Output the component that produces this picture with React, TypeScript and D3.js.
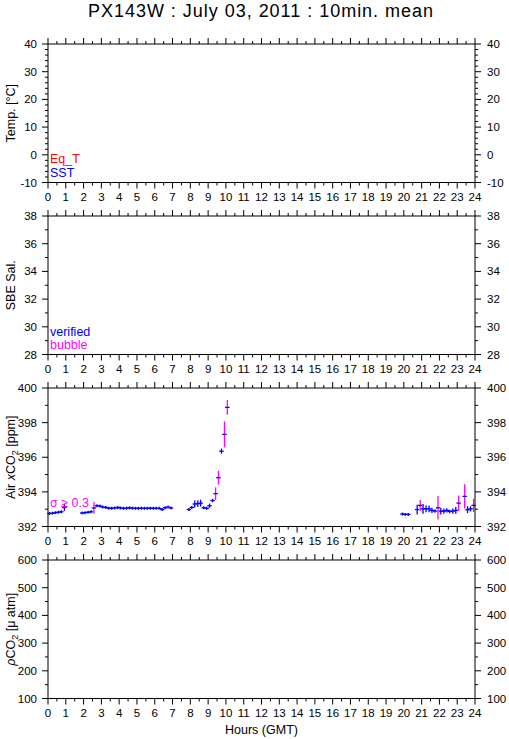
import React from 'react';
import * as d3 from 'd3';

const titleText = 'PX143W : July 03, 2011 : 10min. mean';
const hourTicks = d3.range(0, 25);
const hourMinor = d3.range(0.5, 24, 1);

const tempTicks = [-10, 0, 10, 20, 30, 40];
const salTicks = [28, 30, 32, 34, 36, 38];
const airTicks = [392, 394, 396, 398, 400];
const pco2Ticks = [100, 200, 300, 400, 500, 600];

// Air xCO2 10-min means (hour GMT, ppm, std dev)
const airHours = [
  0.08, 0.25, 0.42, 0.58, 0.75, 0.92,
  1.92, 2.08, 2.25, 2.42, 2.58, 2.75, 2.92, 3.08, 3.25, 3.42, 3.58, 3.75, 3.92,
  4.08, 4.25, 4.42, 4.58, 4.75, 4.92, 5.08, 5.25, 5.42, 5.58, 5.75, 5.92, 6.08, 6.25,
  6.42, 6.58, 6.75, 6.92,
  7.92, 8.08, 8.25, 8.42, 8.58, 8.75, 8.92, 9.08, 9.25, 9.42, 9.58, 9.75, 9.92, 10.08,
  19.92, 20.08, 20.25,
  20.75, 20.92, 21.08, 21.25, 21.42, 21.58, 21.75, 21.92, 22.08, 22.25, 22.42, 22.58,
  22.75, 22.92, 23.08, 23.42, 23.58, 23.75, 23.92,
];
const airValues = [
  392.75, 392.77, 392.8, 392.82, 392.85, 393.1,
  392.78, 392.8, 392.82, 392.85, 393.07, 393.2, 393.18, 393.12, 393.1, 393.06, 393.05, 393.07, 393.1,
  393.07, 393.05, 393.06, 393.08, 393.06, 393.05, 393.05, 393.06, 393.05, 393.05, 393.06, 393.05, 393.05, 393.05,
  392.98, 393.08, 393.12, 393.07,
  392.98, 393.1, 393.3, 393.32, 393.35, 393.08, 393.05, 393.2, 393.5, 393.9, 394.82, 396.35, 397.32, 398.88,
  392.72, 392.7, 392.7,
  392.98, 393.22, 393.02, 393.02, 393.02, 392.93, 392.89, 393.08, 392.89, 392.89, 392.93, 392.87,
  392.89, 392.93, 393.35, 393.74, 392.97, 393.02, 393.22,
];
const airSd = [
  0.05, 0.05, 0.05, 0.05, 0.06, 0.2,
  0.05, 0.05, 0.05, 0.05, 0.34, 0.08, 0.06, 0.06, 0.05, 0.05, 0.05, 0.08, 0.06,
  0.05, 0.05, 0.05, 0.06, 0.05, 0.05, 0.05, 0.05, 0.05, 0.05, 0.05, 0.05, 0.05, 0.05,
  0.06, 0.06, 0.06, 0.05,
  0.06, 0.06, 0.2, 0.2, 0.2, 0.06, 0.06, 0.12, 0.1, 0.36, 0.4, 0.15, 0.75, 0.42,
  0.03, 0.03, 0.03,
  0.28, 0.31, 0.28, 0.2, 0.2, 0.15, 0.1, 0.68, 0.2, 0.15, 0.12, 0.1,
  0.15, 0.2, 0.44, 0.7, 0.2, 0.15, 0.38,
];

const W = 509;
const H = 739;
const LEFT = 48;
const RIGHT = 475;
const PANEL_H = 138.5;
const PANEL_STEP = 172;
const FONT = '"Liberation Sans", Arial, Helvetica, sans-serif';
const BLUE = '#0000ff';
const MAGENTA = '#ff00ff';
const RED = '#ff0000';

const x = d3.scaleLinear().domain([0, 24]).range([LEFT, RIGHT]);

type PanelDef = {
  ticks: number[];
  minorStep: number;
  label: React.ReactNode;
};

const panels: PanelDef[] = [
  { ticks: tempTicks, minorStep: 2, label: 'Temp. [°C]' },
  { ticks: salTicks, minorStep: 1, label: 'SBE Sal.' },
  {
    ticks: airTicks,
    minorStep: 1,
    label: (
      <>
        Air <tspan fontStyle="italic">x</tspan>CO<tspan fontSize={9} dy={3}>2</tspan>
        <tspan dy={-3}> [ppm]</tspan>
      </>
    ),
  },
  {
    ticks: pco2Ticks,
    minorStep: 50,
    label: (
      <>
        <tspan fontStyle="italic">ρ</tspan>CO<tspan fontSize={9} dy={3}>2</tspan>
        <tspan dy={-3}> [μ atm]</tspan>
      </>
    ),
  },
];

function Panel({ def, index, children }: { def: PanelDef; index: number; children?: any }) {
  const top = 44 + index * PANEL_STEP;
  const bottom = top + PANEL_H;
  const lo = def.ticks[0];
  const hi = def.ticks[def.ticks.length - 1];
  const y = d3.scaleLinear().domain([lo, hi]).range([bottom, top]);
  const minor = d3.range(lo, hi + 1e-9, def.minorStep).filter((v) => !def.ticks.includes(v));
  return (
    <g>
      {children && children(y)}
      <rect x={LEFT} y={top} width={RIGHT - LEFT} height={PANEL_H} fill="none" stroke="#000" strokeWidth={1} />
      {hourTicks.map((h) => (
        <g key={'h' + h}>
          <line x1={x(h)} x2={x(h)} y1={top} y2={top - 6} stroke="#000" />
          <line x1={x(h)} x2={x(h)} y1={bottom} y2={bottom + 6} stroke="#000" />
          <text x={x(h)} y={bottom + 18} textAnchor="middle" fontSize={11.5} fontFamily={FONT}>
            {h}
          </text>
        </g>
      ))}
      {hourMinor.map((h) => (
        <g key={'m' + h}>
          <line x1={x(h)} x2={x(h)} y1={top} y2={top - 3} stroke="#000" />
          <line x1={x(h)} x2={x(h)} y1={bottom} y2={bottom + 3} stroke="#000" />
        </g>
      ))}
      {def.ticks.map((v) => (
        <g key={'y' + v}>
          <line x1={LEFT} x2={LEFT - 6} y1={y(v)} y2={y(v)} stroke="#000" />
          <line x1={RIGHT} x2={RIGHT + 6} y1={y(v)} y2={y(v)} stroke="#000" />
          <text x={LEFT - 11} y={y(v) + 4} textAnchor="end" fontSize={11.5} fontFamily={FONT}>
            {v}
          </text>
          <text x={RIGHT + 12} y={y(v) + 4} textAnchor="start" fontSize={11.5} fontFamily={FONT}>
            {v}
          </text>
        </g>
      ))}
      {minor.map((v) => (
        <g key={'ym' + v}>
          <line x1={LEFT} x2={LEFT - 3} y1={y(v)} y2={y(v)} stroke="#000" />
          <line x1={RIGHT} x2={RIGHT + 3} y1={y(v)} y2={y(v)} stroke="#000" />
        </g>
      ))}
      <text
        transform={`translate(15,${(top + bottom) / 2}) rotate(-90)`}
        textAnchor="middle"
        fontSize={12.5}
        fontFamily={FONT}
      >
        {def.label}
      </text>
    </g>
  );
}

export default function App() {
  const drawAir = (y: d3.ScaleLinear<number, number>) => (
    <g>
      {airHours.map((h, i) => {
        const cx = x(h);
        const cy = y(airValues[i]);
        const sd = airSd[i];
        const half = Math.max(1.5, Math.abs(y(airValues[i] + sd) - cy));
        const barColor = sd >= 0.3 ? MAGENTA : BLUE;
        return (
          <g key={i}>
            <line x1={cx} x2={cx} y1={cy - half} y2={cy + half} stroke={barColor} strokeWidth={1.3} />
            <line x1={cx - 2.2} x2={cx + 2.2} y1={cy} y2={cy} stroke={BLUE} strokeWidth={1.3} />
          </g>
        );
      })}
    </g>
  );

  return (
    <svg
      width={W}
      height={H}
      viewBox={`0 0 ${W} ${H}`}
      style={{ position: 'absolute', left: 0, top: 0, background: '#fff' }}
    >
      <rect x={0} y={0} width={W} height={H} fill="#fff" />
      <text x={260.5} y={17} textAnchor="middle" fontSize={18} fontFamily={FONT} textLength={345} lengthAdjust="spacing">
        {titleText}
      </text>
      <Panel def={panels[0]} index={0} />
      <Panel def={panels[1]} index={1} />
      <Panel def={panels[2]} index={2}>
        {drawAir}
      </Panel>
      <Panel def={panels[3]} index={3} />

      <text x={50} y={163} fontSize={12.5} fontFamily={FONT} fill={RED}>Eq_T</text>
      <text x={50} y={177} fontSize={12.5} fontFamily={FONT} fill={BLUE}>SST</text>
      <text x={50} y={336} fontSize={12.5} fontFamily={FONT} fill={BLUE}>verified</text>
      <text x={50} y={349} fontSize={12.5} fontFamily={FONT} fill={MAGENTA}>bubble</text>
      <text x={50} y={507} fontSize={12.5} fontFamily={FONT} fill={MAGENTA}>σ ≥ 0.3</text>

      <text x={261.5} y={734} textAnchor="middle" fontSize={12.5} fontFamily={FONT}>
        Hours (GMT)
      </text>
    </svg>
  );
}
